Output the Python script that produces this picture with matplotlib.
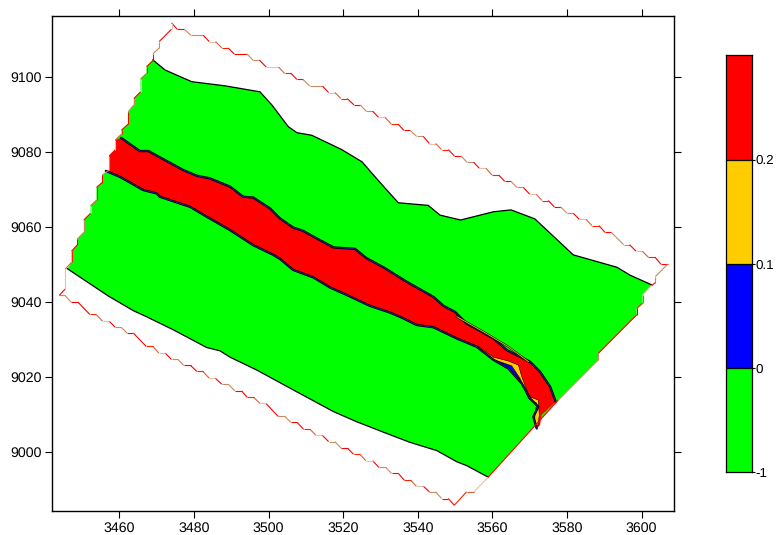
import numpy as np
import matplotlib
matplotlib.use('Agg')
import matplotlib.pyplot as plt
from matplotlib.collections import LineCollection
from matplotlib.colors import ListedColormap

plt.rcParams['font.family'] = ['Liberation Sans', 'DejaVu Sans']
plt.rcParams['text.hinting'] = 'no_hinting'

# Outer staircase of the grid, clockwise from the top corner
outline = [(3474.0,9114.4),(3475.5,9112.7),(3477.4,9112.7),(3479.2,9111.1),(3482.5,9111.1),(3484.1,9109.4),(3485.8,9109.4),
    (3487.5,9107.7),(3489.2,9107.7),(3490.8,9106.1),(3494.2,9106.1),(3495.9,9104.4),(3497.6,9104.4),(3499.4,9102.6),(3502.7,9102.6),
    (3504.3,9100.9),(3506.0,9100.9),(3507.6,9099.3),(3509.2,9099.3),(3511.1,9097.5),(3514.5,9097.5),(3516.1,9095.8),(3517.8,9095.8),
    (3519.4,9094.2),(3521.1,9094.2),(3522.9,9092.5),(3524.6,9092.5),(3526.2,9090.8),(3527.9,9090.8),(3529.5,9089.2),(3531.2,9089.2),
    (3532.9,9087.4),(3534.7,9087.4),(3536.3,9085.7),(3538.0,9085.7),(3539.7,9084.1),(3541.5,9084.1),(3543.1,9082.2),(3544.8,9082.2),
    (3546.4,9080.6),(3548.2,9080.6),(3549.8,9078.9),(3551.6,9078.9),(3553.2,9077.2),(3555.0,9077.2),(3556.5,9075.6),(3558.3,9075.6),
    (3559.9,9073.8),(3561.7,9073.8),(3563.3,9072.1),(3565.0,9072.1),(3566.6,9070.5),(3568.3,9070.5),(3570.0,9068.7),(3571.8,9068.7),
    (3573.3,9067.0),(3575.0,9067.0),(3576.6,9065.3),(3578.3,9065.3),(3580.0,9063.6),(3581.7,9063.6),(3583.3,9062.0),(3585.1,9062.0),
    (3586.7,9060.3),(3588.6,9060.3),(3590.2,9058.5),(3591.9,9058.5),(3595.2,9055.2),(3596.8,9055.2),(3598.5,9053.5),(3600.2,9053.5),
    (3601.8,9051.9),(3603.6,9051.9),(3605.2,9050.0),(3607.0,9050.0),
    (3603.7,9046.7),(3603.7,9045.1),(3602.7,9044.3),(3600.3,9041.8),(3600.3,9039.6),(3598.7,9038.2),(3598.7,9036.5),(3588.4,9026.2),
    (3588.4,9024.5),(3577.7,9013.8),(3558.9,8993.2),(3555.1,8989.3),(3553.1,8989.3),(3549.8,8985.7),
    (3548.2,8987.5),(3546.4,8987.5),(3544.8,8989.3),(3543.1,8989.3),(3541.5,8990.8),(3539.6,8990.8),(3538.1,8992.4),(3536.4,8992.4),
    (3534.8,8994.2),(3533.0,8994.2),(3531.4,8995.8),(3529.6,8995.8),(3527.9,8997.6),(3526.1,8997.6),(3524.5,8999.3),(3522.8,8999.3),
    (3521.2,9000.9),(3519.5,9000.9),(3517.8,9002.7),(3516.1,9002.7),(3514.4,9004.4),(3512.7,9004.4),(3511.1,9006.0),(3509.4,9006.0),
    (3507.7,9007.8),(3506.0,9007.8),(3504.4,9009.4),(3502.6,9009.4),(3499.3,9012.9),(3497.7,9012.9),(3496.0,9014.5),(3494.3,9014.5),
    (3492.8,9016.2),(3491.0,9016.2),(3489.2,9018.0),(3487.5,9018.0),(3485.7,9019.6),(3484.1,9019.6),(3482.4,9021.4),(3480.8,9021.4),
    (3479.1,9023.0),(3477.3,9023.0),(3475.7,9024.6),(3474.0,9024.6),(3472.3,9026.3),(3470.6,9026.3),(3469.0,9028.1),(3467.2,9028.1),
    (3463.8,9031.6),(3462.1,9031.6),(3460.5,9033.2),(3458.9,9033.2),(3457.3,9034.8),(3455.5,9034.8),(3453.8,9036.6),(3452.1,9036.6),
    (3448.9,9039.9),(3447.1,9039.9),(3445.4,9041.7),(3443.9,9041.7),
    (3445.5,9043.4),(3445.5,9048.7),(3447.2,9050.5),(3447.2,9053.5),(3448.7,9055.1),(3448.7,9056.7),(3450.5,9058.5),(3450.5,9061.8),
    (3452.3,9063.6),(3452.3,9065.6),(3453.9,9067.1),(3453.9,9070.5),(3455.4,9071.8),(3455.4,9073.8),(3457.3,9075.1),(3457.3,9078.9),
    (3458.9,9080.5),(3458.9,9083.1),(3460.6,9084.7),(3460.6,9085.8),(3462.4,9087.4),(3462.4,9090.7),(3463.9,9092.5),(3463.9,9094.2),
    (3465.7,9096.0),(3465.7,9099.4),(3467.3,9100.9),(3467.3,9102.7),(3469.0,9104.3),(3469.0,9106.1),(3470.7,9107.7),(3470.7,9109.4),
    (3474.0,9112.7),(3474.0,9114.4)]

# Black contour on the upper and lower side of the green area
green_top = [(3469.0,9104.5),(3472.3,9101.8),(3479.4,9098.7),(3488.3,9097.6),(3497.7,9096.0),(3500.9,9092.5),(3505.3,9086.7),
    (3507.6,9085.1),(3511.6,9084.4),(3519.6,9080.6),(3525.1,9077.3),(3527.7,9074.3),(3531.7,9069.8),(3534.8,9066.4),(3542.8,9065.7),
    (3546.0,9063.1),(3551.5,9061.8),(3560.3,9064.0),(3565.0,9064.5),(3571.4,9062.1),(3581.7,9052.5),(3593.4,9049.2),(3596.9,9047.1),
    (3602.7,9044.5)]
green_right = [(3600.3,9041.8),(3600.3,9039.6),(3598.7,9038.2),(3598.7,9036.5),(3588.4,9026.2),(3588.4,9024.5),(3577.7,9013.8)]
green_bottom = [(3558.9,8993.2),(3553.1,8996.3),(3550.5,8997.3),(3545.1,9000.3),(3537.9,9002.5),(3530.8,9005.2),(3523.6,9008.0),
    (3517.4,9010.7),(3506.6,9016.5),(3496.8,9021.8),(3489.7,9025.2),(3487.0,9026.9),(3483.4,9027.8),(3474.5,9032.5),(3467.3,9036.0),
    (3463.8,9037.6),(3457.1,9041.5),(3446.1,9048.8)]
green_left = [(3447.2,9050.5),(3447.2,9053.5),(3448.7,9055.1),(3448.7,9056.7),(3450.5,9058.5),(3450.5,9061.8),(3452.3,9063.6),
    (3452.3,9065.6),(3453.9,9067.1),(3453.9,9070.5),(3455.4,9071.8),(3455.4,9073.8),(3457.3,9075.1),(3457.3,9078.9),(3458.9,9080.5),
    (3458.9,9083.1),(3460.6,9084.7),(3460.6,9085.8),(3462.4,9087.4),(3462.4,9090.7),(3463.9,9092.5),(3463.9,9094.2),(3465.7,9096.0),
    (3465.7,9099.4),(3467.3,9100.9),(3467.3,9102.7)]

# Red band, its two edges
band_upper = [(3460.5,9083.7),(3465.5,9080.2),(3467.8,9080.2),(3477.2,9075.1),(3480.8,9073.6),(3484.3,9072.9),(3489.7,9070.7),
    (3493.2,9068.0),(3495.9,9067.8),(3500.4,9064.9),(3503.1,9062.2),(3506.6,9059.8),(3509.3,9058.9),(3512.9,9056.9),(3517.4,9054.5),
    (3523.2,9054.1),(3526.3,9051.6),(3530.8,9049.2),(3537.1,9045.3),(3544.2,9041.3),(3546.9,9038.9),(3550.0,9037.3),(3553.1,9034.2),
    (3560.3,9030.2),(3563.9,9027.1),(3570.1,9024.0),(3572.8,9021.3),(3575.5,9017.3),(3577.0,9013.3)]
band_lower = [(3456.4,9074.9),(3460.2,9073.3),(3466.4,9069.8),(3470.0,9068.9),(3470.9,9068.0),(3479.0,9065.3),(3483.4,9062.7),
    (3489.7,9059.1),(3495.9,9055.1),(3501.3,9052.5),(3503.1,9051.4),(3506.6,9048.5),(3512.0,9046.5),(3516.5,9043.8),(3521.0,9041.8),
    (3527.2,9038.9),(3532.6,9037.1),(3536.1,9035.6),(3539.7,9033.8),(3544.2,9033.2),(3550.5,9030.2),(3555.8,9028.0),(3560.3,9024.5),
    (3564.3,9022.2),(3567.9,9018.2),(3570.1,9014.2),(3572.3,9012.0),(3571.0,9009.3),(3571.9,9006.2)]
band_tip = [(3572.8,9007.1),(3573.2,9009.8)]
band_left = [(3457.3,9075.1),(3457.3,9078.9),(3458.9,9080.5),(3458.9,9083.1)]

# Thin blue and orange classes near the end of the band
blue_inner = [(3555.8,9028.3),(3560.3,9025.0),(3564.3,9023.9),(3567.4,9019.7),(3569.7,9014.3),(3571.9,9013.0),(3571.4,9007.4)]
orange_class = [(3555.8,9028.4),(3560.3,9025.2),(3564.3,9024.2),(3567.0,9023.1),(3567.9,9020.0),(3569.9,9014.7),(3572.3,9013.8),
    (3572.6,9009.8),(3572.2,9006.9),(3571.4,9007.4),(3571.4,9009.8),(3571.9,9012.9),(3569.7,9014.2),(3567.4,9019.6),(3565.2,9022.9),
    (3560.3,9024.6),(3555.8,9028.0)]
orange_upper = [(3550.5,9036.0),(3557.6,9032.0),(3564.3,9028.0),(3569.7,9024.0)]

class_colors = ['#00ff00', '#0000ff', '#ffcc00', '#ff0000']
class_labels = ['-1', '0', '0.1', '0.2']
x_ticks = [3460, 3480, 3500, 3520, 3540, 3560, 3580, 3600]
y_ticks = [9000, 9020, 9040, 9060, 9080, 9100]


def xy(points):
    return zip(*points)


W, H = 776, 535
fig = plt.figure(figsize=(W / 100, H / 100), dpi=100)
ax = fig.add_axes([52.3 / W, 1 - 511.3 / H, (674 - 52.3) / W, (511.3 - 15.7) / H])

green_poly = green_top + green_right + green_bottom + green_left
ax.fill(*xy(green_poly), color=class_colors[0], lw=0, zorder=1)

band_poly = band_upper + band_tip[::-1] + band_lower[::-1] + band_left
ax.fill(*xy(band_poly), color=class_colors[3], lw=0, zorder=2)
ax.fill(*xy(blue_inner + band_lower[:20:-1]), color=class_colors[1], lw=0, zorder=3)
ax.fill(*xy(orange_class), color=class_colors[2], ec='black', lw=0.4, zorder=4)

# Contour lines
ax.plot(*xy(green_top), color='black', lw=0.9, zorder=5)
ax.plot(*xy(green_bottom), color='black', lw=0.9, zorder=5)
for edge in (band_upper, band_lower):
    ax.plot(*xy(edge), color='black', lw=1.7, zorder=5, solid_capstyle='round')
    ax.plot(*xy(edge), color='#2020a0', lw=0.6, zorder=6)
ax.plot(*xy(orange_upper), color='black', lw=1.4, zorder=6)
ax.plot(*xy(orange_upper), color=class_colors[2], lw=0.6, zorder=7)

# Boundary line: red with tan stretches
pts = np.array(outline)
segs = np.stack([pts[:-1], pts[1:]], axis=1)
cycle = ['#ff0000', '#ff0000', '#c98a62', '#c98a62', '#ff0000', '#e8c0a8', '#d8603c', '#ff2000']
seg_colors = [cycle[i % len(cycle)] for i in range(len(segs))]
ax.add_collection(LineCollection(segs, colors=seg_colors, linewidths=0.8, zorder=8))

ax.set_xlim(3442.04, 3608.7)
ax.set_ylim(8984.1, 9116.3)
ax.set_xticks(x_ticks)
ax.set_yticks(y_ticks)
ax.tick_params(top=True, right=True, length=5.2, width=0.8, labelsize=10.2, direction='out')
ax.tick_params(axis='x', pad=2)
ax.tick_params(axis='y', pad=2.7)
for spine in ax.spines.values():
    spine.set_linewidth(1.0)

# Class scale on the right
cax = fig.add_axes([725.7 / W, 1 - 472.3 / H, (752 - 725.7) / W, (472.3 - 55.3) / H])
cmap = ListedColormap(class_colors)
cax.pcolormesh([0, 1], np.arange(len(class_colors) + 1), np.arange(len(class_colors)).reshape(-1, 1), cmap=cmap, edgecolors='none')
for k in range(1, len(class_colors)):
    cax.axhline(k, color='black', lw=0.9)
cax.set_xticks([])
cax.yaxis.tick_right()
cax.set_yticks(range(len(class_labels)))
cax.set_yticklabels(class_labels)
cax.tick_params(length=2.2, width=0.8, labelsize=9.6, pad=0.6)
for spine in cax.spines.values():
    spine.set_linewidth(0.9)

fig.savefig('out.png', dpi=100)
